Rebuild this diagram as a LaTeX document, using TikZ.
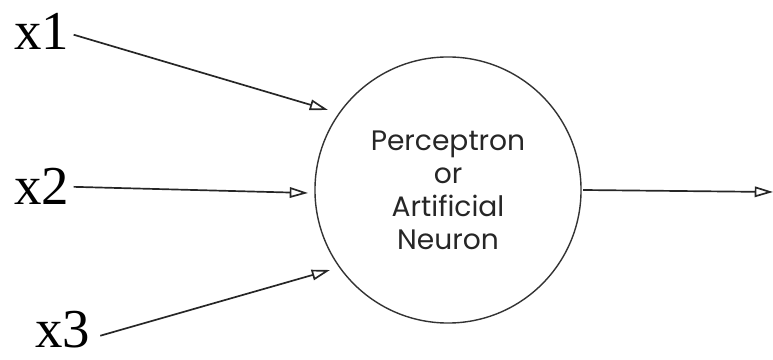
\documentclass[tikz,border=0pt]{standalone}
\usepackage{fontspec}
\setmainfont{Liberation Serif}
\newfontfamily\neuronfont{Poppins}
\usetikzlibrary{positioning, arrows.meta}

\begin{document}
\begin{tikzpicture}[
    x=0.025cm, y=0.025cm,
    inputlabel/.style={
        inner sep=0pt, anchor=base west,
        font=\fontsize{39}{40}\selectfont
    },
    neuron/.style={
        circle, draw=black!80, line width=1pt,
        minimum size=6.65cm, inner sep=0pt,
        align=center, text=black!85,
        font=\neuronfont\fontsize{20}{23.5}\selectfont
    },
    arrow/.style={-{Triangle[open, length=13pt, width=7.5pt]}, line width=1.2pt, black!85}
]
\useasboundingbox (0,0) rectangle (773,360);

% The neuron in the middle
\node[neuron] (cell) at (448,170) {Perceptron\\or\\Artificial\\Neuron};

% Inputs on the left
\node[inputlabel] (x1) at (14,310) {x1};
\node[inputlabel] (x2) at (14,155) {x2};
\node[inputlabel] (x3) at (35,12) {x3};

% Arrow tips (they stop short of the circle)
\coordinate (tip1) at (328,250);
\coordinate (tip2) at (308,167);
\coordinate (tip3) at (330,90);
\coordinate (out) at (773,168);

% Arrows from the inputs into the neuron
\draw[arrow] ([xshift=3, yshift=-2]x1.east) -- (tip1);
\draw[arrow] ([xshift=3]x2.east) -- (tip2);
\draw[arrow] ([xshift=7, yshift=-4]x3.east) -- (tip3);

% Output
\draw[arrow] ([xshift=1]cell.east) -- (out);

\end{tikzpicture}
\end{document}
